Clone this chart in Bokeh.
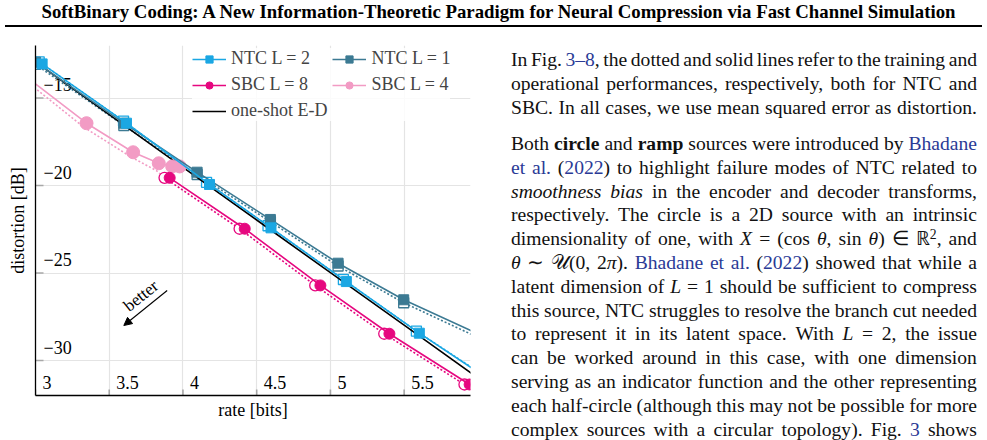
import re
import math
from bokeh.plotting import figure
from bokeh.models import Range1d, Legend, LegendItem, Arrow, NormalHead, Div, FixedTicker
from bokeh.layouts import column, row
from bokeh.embed import file_html
from bokeh.resources import INLINE
from bokeh.core.properties import value

# ---------------- data ----------------
ntc2_rate = [3.045, 3.617, 4.180, 4.597, 5.108, 5.603, 6.0]
ntc2_dist = [-13.05, -16.44, -19.94, -22.42, -25.49, -28.44, -30.66]
ntc2_train_rate = [3.025, 3.597, 4.160, 4.577, 5.088, 5.583, 5.98]
ntc2_train_dist = [-12.93, -16.32, -19.82, -22.30, -25.37, -28.32, -30.52]

ntc1_rate = [3.000, 3.599, 4.096, 4.593, 5.052, 5.497, 6.0]
ntc1_dist = [-12.95, -16.44, -19.24, -21.94, -24.44, -26.53, -28.48]
ntc1_train_rate = [3.000, 3.599, 4.096, 4.593, 5.052, 5.497, 6.0]
ntc1_train_dist = [-13.08, -16.57, -19.37, -22.07, -24.60, -26.70, -28.68]

sbc8_rate = [3.910, 4.419, 4.932, 5.400, 5.944]
sbc8_dist = [-19.56, -22.47, -25.71, -28.47, -31.37]
sbc8_train_rate = [3.875, 4.384, 4.897, 5.365, 5.909]
sbc8_train_dist = [-19.56, -22.47, -25.71, -28.47, -31.37]

sbc4_rate = [2.800, 3.346, 3.662, 3.836, 3.927, 3.978]
sbc4_dist = [-12.89, -16.44, -18.10, -18.73, -18.91, -18.91]
sbc4_train_rate = [2.800, 3.330, 3.650, 3.820, 3.875]
sbc4_train_dist = [-13.10, -16.68, -18.38, -19.15, -19.56]

oneshot_rate = [3.0, 3.5, 4.0, 4.5, 5.0, 5.5, 6.0]
oneshot_dist = [-12.94, -15.95, -18.96, -21.97, -24.98, -27.98, -30.99]

x_ticks = [3, 3.5, 4, 4.5, 5, 5.5]
x_tick_labels = ["3", "3.5", "4", "4.5", "5", "5.5"]
y_ticks = [-30, -25, -20, -15]
y_tick_labels = ["\u221230", "\u221225", "\u221220", "\u221215"]

legend_labels = ["NTC L = 2", "NTC L = 1", "SBC L = 8", "SBC L = 4", "one-shot E-D"]

# annotation ("better" arrow)
arrow_start = (3.893, -26.0)
arrow_end = (3.599, -28.0)
better_pos = (3.715, -26.3)

# ---------------- style ----------------
C_NTC2 = "#1ba7e3"
C_NTC1 = "#3c7a93"
C_SBC8 = "#e6077f"
C_SBC4 = "#f29bc4"
FONT = "Liberation Serif"
FS = "18px"
X0, X1, Y0, Y1 = 3.0, 5.95, -32, -12

p = figure(width=490, height=410, x_range=Range1d(X0, X1), y_range=Range1d(Y0, Y1),
           output_backend="svg", toolbar_location=None,
           min_border_left=35, min_border_right=20, min_border_top=15, min_border_bottom=45)
p.outline_line_color = None
p.background_fill_color = "white"
p.border_fill_color = "white"

# axes carry only the line and the title; grid follows the tick lists
p.xaxis.ticker = FixedTicker(ticks=[])
p.yaxis.ticker = FixedTicker(ticks=[])
p.xgrid.ticker = FixedTicker(ticks=x_ticks)
p.ygrid.ticker = FixedTicker(ticks=y_ticks)
p.xgrid.grid_line_color = "#e4e4e4"
p.ygrid.grid_line_color = "#e4e4e4"
p.xgrid.grid_line_width = 1.2
p.ygrid.grid_line_width = 1.2
for ax in (p.xaxis, p.yaxis):
    ax.axis_line_color = "black"
    ax.axis_line_width = 1.3
    ax.major_tick_out = 0
    ax.major_tick_in = 0
    ax.minor_tick_out = 0
    ax.minor_tick_in = 0
    ax.major_label_standoff = 0
    ax.axis_label_text_font = FONT
    ax.axis_label_text_font_size = FS
    ax.axis_label_text_font_style = "normal"
    ax.axis_label_text_color = "black"
p.xaxis.axis_label = "rate [bits]"
p.yaxis.axis_label = "distortion [dB]"
p.xaxis.axis_label_standoff = 4
p.yaxis.axis_label_standoff = 8

# inward tick marks (half of each dash is clipped by the frame)
p.scatter(x=[X0] * len(y_ticks), y=y_ticks, marker="dash", size=16,
          line_color="#a8a8a8", line_width=1.6)
p.scatter(x=x_ticks, y=[Y0] * len(x_ticks), marker="dash", size=12, angle=math.pi / 2,
          line_color="#a8a8a8", line_width=1.6)

# tick labels inside the frame
p.text(x=x_ticks, y=[Y0] * len(x_ticks), text=x_tick_labels, x_offset=7, y_offset=-13,
       text_baseline="middle", text_align="left", text_font=value(FONT),
       text_font_size=FS, text_color="black")
p.text(x=[X0] * len(y_ticks), y=y_ticks, text=y_tick_labels, x_offset=8, y_offset=-13.5,
       text_baseline="middle", text_align="left", text_font=value(FONT),
       text_font_size=FS, text_color="black")

# training (dotted) curves with open markers
p.line(sbc4_train_rate, sbc4_train_dist, color=C_SBC4, line_width=1.6, line_dash="2 2")
p.line(ntc1_train_rate, ntc1_train_dist, color=C_NTC1, line_width=1.6, line_dash="2 2")
p.line(ntc2_train_rate, ntc2_train_dist, color=C_NTC2, line_width=1.6, line_dash="2 2")
p.line(sbc8_train_rate, sbc8_train_dist, color=C_SBC8, line_width=1.6, line_dash="2 2")
p.scatter(ntc1_train_rate[:-1], ntc1_train_dist[:-1], marker="square", size=10,
          fill_color="white", line_color=C_NTC1, line_width=1.3)
p.scatter(ntc2_train_rate[:-1], ntc2_train_dist[:-1], marker="square", size=10,
          fill_color="white", line_color=C_NTC2, line_width=1.3)
p.scatter(sbc8_train_rate, sbc8_train_dist, marker="circle", size=11,
          fill_color="white", line_color=C_SBC8, line_width=1.3)

# one-shot E-D
l_os = p.line(oneshot_rate, oneshot_dist, color="black", line_width=1.6)

# operational (solid) curves with filled markers
l_sbc4 = p.line(sbc4_rate, sbc4_dist, color=C_SBC4, line_width=1.6)
m_sbc4 = p.scatter(sbc4_rate[1:], sbc4_dist[1:], marker="circle", size=13,
                   fill_color=C_SBC4, line_color=C_SBC4)
l_ntc1 = p.line(ntc1_rate, ntc1_dist, color=C_NTC1, line_width=1.6)
m_ntc1 = p.scatter(ntc1_rate[:-1], ntc1_dist[:-1], marker="square", size=10,
                   fill_color=C_NTC1, line_color=C_NTC1)
l_ntc2 = p.line(ntc2_rate, ntc2_dist, color=C_NTC2, line_width=1.6)
m_ntc2 = p.scatter(ntc2_rate[:-1], ntc2_dist[:-1], marker="square", size=10,
                   fill_color=C_NTC2, line_color=C_NTC2)
l_sbc8 = p.line(sbc8_rate, sbc8_dist, color=C_SBC8, line_width=1.6)
m_sbc8 = p.scatter(sbc8_rate, sbc8_dist, marker="circle", size=11,
                   fill_color=C_SBC8, line_color=C_SBC8)

# "better" arrow
p.add_layout(Arrow(end=NormalHead(size=8, fill_color="black", line_color="black", line_width=1),
                   x_start=arrow_start[0], y_start=arrow_start[1],
                   x_end=arrow_end[0], y_end=arrow_end[1], line_width=1.1, line_color="black"))
p.text(x=[better_pos[0]], y=[better_pos[1]], text=["better"], angle=0.68,
       text_align="center", text_baseline="middle", text_font=value(FONT),
       text_font_size="17px", text_color="black")

legend = Legend(items=[
    LegendItem(label=legend_labels[0], renderers=[l_ntc2, m_ntc2]),
    LegendItem(label=legend_labels[1], renderers=[l_ntc1, m_ntc1]),
    LegendItem(label=legend_labels[2], renderers=[l_sbc8, m_sbc8]),
    LegendItem(label=legend_labels[3], renderers=[l_sbc4, m_sbc4]),
    LegendItem(label=legend_labels[4], renderers=[l_os]),
], location=(157, 274), orientation="horizontal", ncols=2)
legend.label_text_font = FONT
legend.label_text_font_size = FS
legend.glyph_width = 34
legend.glyph_height = 18
legend.label_standoff = 5
legend.spacing = 5
legend.padding = 3
legend.margin = 0
legend.border_line_color = None
legend.background_fill_color = "white"
legend.background_fill_alpha = 0.85
p.add_layout(legend, "center")

# ---------------- header ----------------
title_text = ("SoftBinary Coding: A New Information-Theoretic Paradigm for Neural "
              "Compression via Fast Channel Simulation")
header = Div(width=987, height=30, margin=0, text=(
    "<div style=\"position:relative;width:987px;height:30px;font-family:'Liberation Serif',serif;\">"
    "<div style=\"position:absolute;left:10px;top:1px;width:977px;text-align:center;"
    "font-weight:bold;font-size:18.8px;line-height:22px;color:#000;white-space:nowrap;\">"
    + title_text +
    "</div><div style=\"position:absolute;left:5px;top:25px;width:977px;height:2px;background:#000;\"></div>"
    "</div>"))

# ---------------- body text ----------------
para1 = [
    "In Fig. <a>3\u20138</a>, the dotted and solid lines refer to the training and",
    "operational performances, respectively, both for NTC and",
    "SBC. In all cases, we use mean squared error as distortion.",
]
para2 = [
    "Both <b>circle</b> and <b>ramp</b> sources were introduced by <a>Bhadane</a>",
    "<a>et al.</a> (<a>2022</a>) to highlight failure modes of NTC related to",
    "<i>smoothness bias</i> in the encoder and decoder transforms,",
    "respectively. The circle is a 2D source with an intrinsic",
    "dimensionality of one, with <i>X</i> = (cos <i>\u03b8</i>, sin <i>\u03b8</i>) \u2208 \u211d<sup>2</sup>, and",
    "<i>\u03b8</i> \u223c \U0001D4B0(0, 2<i>\u03c0</i>). <a>Bhadane et al.</a> (<a>2022</a>) showed that while a",
    "latent dimension of <i>L</i> = 1 should be sufficient to compress",
    "this source, NTC struggles to resolve the branch cut needed",
    "to represent it in its latent space. With <i>L</i> = 2, the issue",
    "can be worked around in this case, with one dimension",
    "serving as an indicator function and the other representing",
    "each half-circle (although this may not be possible for more",
    "complex sources with a circular topology). Fig. <a>3</a> shows",
]

TAG_STYLE = {"a": "<span style=\"color:#2a3a96;\">", "b": "<span style=\"font-weight:bold;\">",
             "i": "<span style=\"font-style:italic;\">",
             "sup": "<span style=\"font-size:70%;vertical-align:0.45em;line-height:0;\">"}


def render_token(tok, open_tags):
    out = "".join(TAG_STYLE[t] for t in open_tags)
    pos = 0
    for m in re.finditer(r"<(/?)(a|b|i|sup)>", tok):
        out += tok[pos:m.start()]
        if m.group(1):
            out += "</span>"
            open_tags.remove(m.group(2))
        else:
            out += TAG_STYLE[m.group(2)]
            open_tags.append(m.group(2))
        pos = m.end()
    out += tok[pos:]
    out += "</span>" * len(open_tags)
    return "<span style=\"white-space:nowrap;\">" + out + "</span>"


def line_html(line, pitch):
    open_tags = []
    parts = [render_token(t, open_tags) for t in line.split(" ")]
    return ("<div style=\"display:flex;justify-content:space-between;height:%.1fpx;"
            "line-height:%.1fpx;white-space:nowrap;\">" % (pitch, pitch) + "".join(parts) + "</div>")


body_html = (
    "<div style=\"position:relative;width:497px;height:410px;overflow:hidden;"
    "font-family:'Liberation Serif',serif;font-size:19.6px;color:#111;\">"
    "<div style=\"position:absolute;left:21px;top:18px;width:466px;\">"
    + "".join(line_html(l, 24.0) for l in para1) +
    "</div><div style=\"position:absolute;left:21px;top:102px;width:466px;\">"
    + "".join(line_html(l, 23.8) for l in para2) +
    "</div></div>")
body = Div(width=497, height=410, margin=0, text=body_html)

layout = column(header, row(p, body))
open("out.html", "w").write(file_html(layout, INLINE))
